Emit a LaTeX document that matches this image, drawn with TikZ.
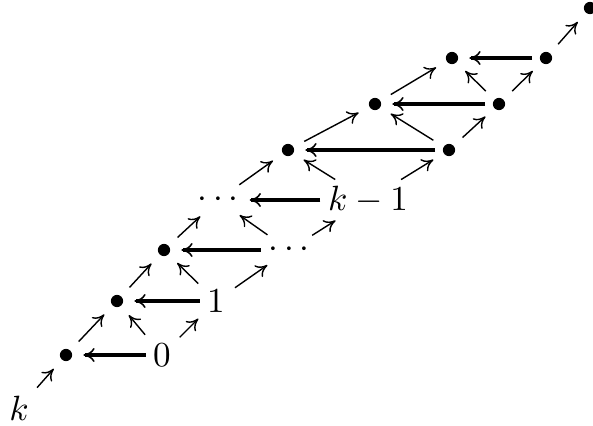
\documentclass[tikz,border=0pt]{standalone}
\usetikzlibrary{arrows.meta}
\begin{document}
\begin{tikzpicture}[x=0.285pt,y=-0.285pt,
  dot/.style={circle,fill,inner sep=0pt,minimum size=3.5pt},
  lbl/.style={inner sep=0pt},
  diag/.style={line width=0.4pt,-{Computer Modern Rightarrow[length=3.2pt,width=4pt]},shorten <=3.3pt,shorten >=3.3pt},
  horiz/.style={line width=1.05pt,-{Computer Modern Rightarrow[line width=0.45pt,length=3.2pt,width=4pt]},shorten <=2pt,shorten >=3pt}]
\useasboundingbox (0,0) rectangle (593,426);
% nodes
\node[lbl] (k) at (19,408) {$k$};
\node[dot] (b0) at (66,355) {};
\node[lbl] (n0) at (162,355) {$0$};
\node[dot] (b1) at (117,301) {};
\node[lbl] (n1) at (216,301) {$1$};
\node[dot] (b2) at (164,250) {};
\node[lbl] (d2) at (289,250) {$\cdots$};
\node[lbl] (d3) at (218,200) {$\cdots$};
\node[lbl] (km) at (368,200) {$k-1$};
\node[dot] (b4) at (288,150) {};
\node[dot] (c4) at (449,150) {};
\node[dot] (b5) at (375,104) {};
\node[dot] (c5) at (499,104) {};
\node[dot] (b6) at (452,58) {};
\node[dot] (c6) at (546,58) {};
\node[dot] (top) at (590,8) {};
% left spine
\draw[diag] (k) -- (b0);
\draw[diag] (b0) -- (b1);
\draw[diag] (b1) -- (b2);
\draw[diag] (b2) -- (d3);
\draw[diag] (d3) -- (b4);
\draw[diag] (b4) -- (b5);
\draw[diag] (b5) -- (b6);
% right spine
\draw[diag] (n0) -- (n1);
\draw[diag] (n1) -- (d2);
\draw[diag] (d2) -- (km);
\draw[diag] (km) -- (c4);
\draw[diag] (c4) -- (c5);
\draw[diag] (c5) -- (c6);
\draw[diag] (c6) -- (top);
% up-left diagonals
\draw[diag] (n0) -- (b1);
\draw[diag] (n1) -- (b2);
\draw[diag] (d2) -- (d3);
\draw[diag] (km) -- (b4);
\draw[diag] (c4) -- (b5);
\draw[diag] (c5) -- (b6);
% horizontals
\draw[horiz] (n0) -- (b0);
\draw[horiz] (n1) -- (b1);
\draw[horiz] (d2) -- (b2);
\draw[horiz] (km) -- (d3);
\draw[horiz] (c4) -- (b4);
\draw[horiz] (c5) -- (b5);
\draw[horiz] (c6) -- (b6);
\end{tikzpicture}
\end{document}
